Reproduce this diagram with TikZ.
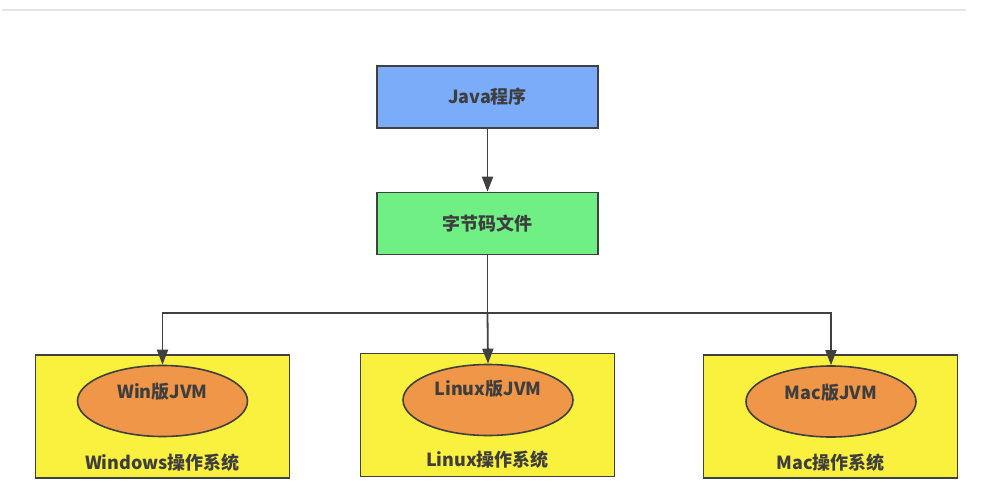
\documentclass[tikz,border=0pt]{standalone}
\usepackage{fontspec}
\setmainfont{Noto Sans CJK SC}
\usetikzlibrary{arrows.meta, positioning, shapes.geometric}
\definecolor{javablue}{RGB}{122,172,250}
\definecolor{codegreen}{RGB}{112,240,132}
\definecolor{osyellow}{RGB}{250,240,62}
\definecolor{jvmorange}{RGB}{240,150,72}
\definecolor{edgegray}{RGB}{64,64,64}
\definecolor{textgray}{RGB}{62,62,62}

\begin{document}
\begin{tikzpicture}[x=1pt, y=-1pt,
    box/.style={draw=edgegray, line width=1.6pt, rectangle, minimum width=221pt, minimum height=62pt, font=\bfseries\fontsize{18}{20}\selectfont, text=textgray},
    osbox/.style={draw=edgegray, line width=1.6pt, rectangle, fill=osyellow, minimum width=254pt, minimum height=123pt},
    jvm/.style={draw=edgegray, line width=1.6pt, ellipse, fill=jvmorange, minimum width=170pt, minimum height=71pt},
    txt/.style={font=\bfseries\fontsize{18}{20}\selectfont, text=textgray, inner sep=0pt},
    link/.style={edgegray, line width=1.8pt},
    arr/.style={link, -{Triangle[length=15pt, width=11pt]}}]
  \useasboundingbox (0,0) rectangle (988,495);
  \draw[black!10, line width=1.5pt] (2,10) -- (966,10);

  \node[box, fill=javablue] (java) at (487.5,97) {Java程序};
  \node[box, fill=codegreen] (bytecode) at (487.5,223.5) {字节码文件};

  % three systems
  \node[osbox] (win) at (162.5,416.5) {};
  \node[osbox] (linux) at (487.5,415) {};
  \node[osbox] (mac) at (830.5,416.5) {};

  \node[jvm] (winjvm) at (162.5,401) {};
  \node[jvm] (linuxjvm) at (488,400) {};
  \node[jvm] (macjvm) at (831,401.5) {};

  \node[txt] (winjvmtxt) at (162.5,392) {Win版JVM};
  \node[txt] (linuxjvmtxt) at (488,389) {Linux版JVM};
  \node[txt] (macjvmtxt) at (831,393) {Mac版JVM};

  \node[txt] (winos) at (162.5,463) {Windows操作系统};
  \node[txt] (linuxos) at (487.5,460) {Linux操作系统};
  \node[txt] (macos) at (830.5,463) {Mac操作系统};

  \coordinate (split) at (487.5,313);
  \draw[arr] (java) -- (bytecode);
  \draw[link] (bytecode) -- (split);
  \draw[arr] (split) -| (winjvm.north);
  \draw[arr] (split) -- (linuxjvm.north);
  \draw[arr] (split) -| (macjvm.north);
\end{tikzpicture}
\end{document}
